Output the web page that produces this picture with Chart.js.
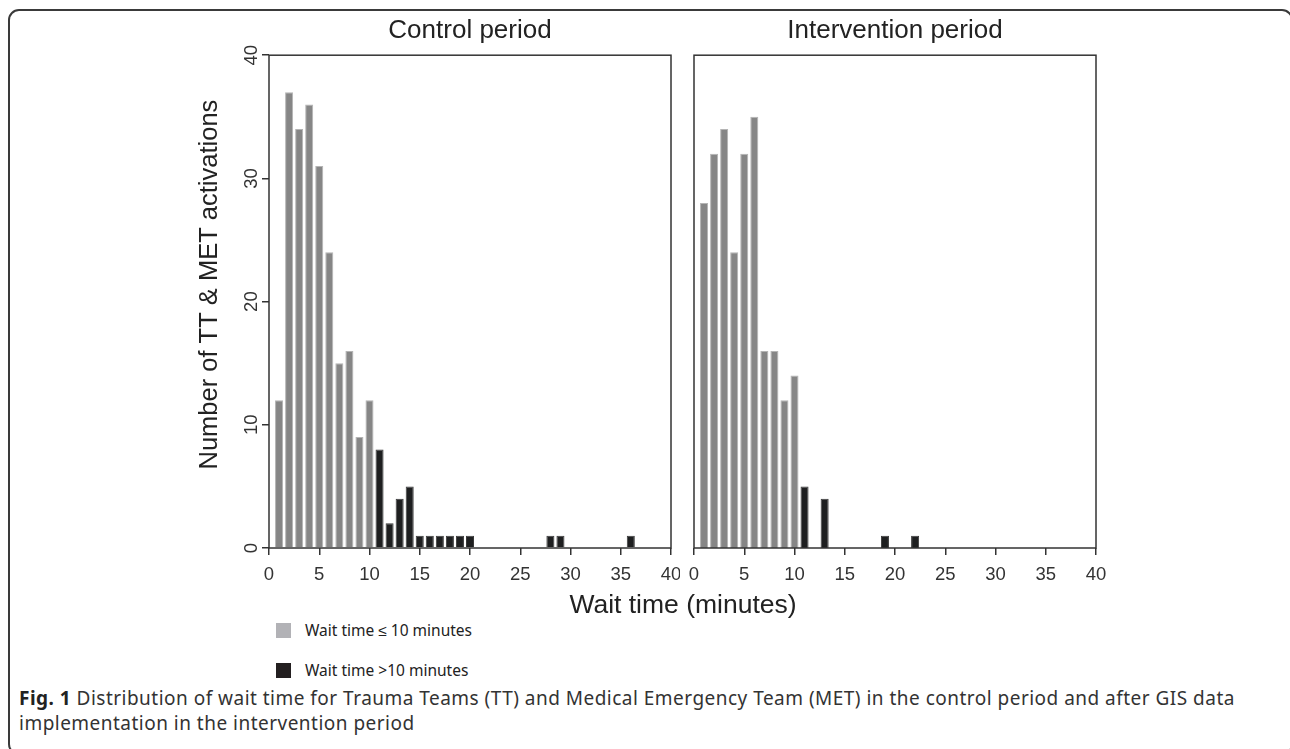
<!DOCTYPE html>
<html>
<head>
<meta charset="utf-8">
<script src="https://cdn.jsdelivr.net/npm/chart.js@4.4.0/dist/chart.umd.min.js"></script>
<style>
  body { margin: 0; width: 1290px; height: 749px; overflow: hidden; background: #fff; position: relative;
         font-family: "Liberation Sans", Arial, sans-serif; }
  #frame { position: absolute; left: 8px; top: 9px; width: 1281px; height: 742px;
           border: 2px solid #3a3a3a; border-radius: 11px; }
  .panel { position: absolute; top: 0; height: 600px; }
  #left { left: 170px; width: 510px; }
  #right { left: 685px; width: 425px; }
  #xtitle { position: absolute; left: 483px; width: 400px; top: 589px; text-align: center;
            font-size: 26.5px; color: #222; }
  .leg { position: absolute; left: 276px; font-family: "Noto Sans", sans-serif; font-size: 15.5px; color: #222; }
  .leg span { display: inline-block; width: 15px; height: 15px; vertical-align: -2px; margin-right: 14px; }
  #caption { position: absolute; left: 19px; top: 686px; width: 1250px; font-family: "Noto Sans", sans-serif;
             font-size: 19px; letter-spacing: 0.48px; line-height: 25px; color: #333; }
  #caption b { color: #222; }
</style>
</head>
<body>
<div id="frame"></div>
<div class="panel" id="left"><canvas id="c1"></canvas></div>
<div class="panel" id="right"><canvas id="c2"></canvas></div>
<div id="xtitle">Wait time (minutes)</div>
<div class="leg" style="top:619px"><span style="background:#b2b2b6"></span>Wait time ≤ 10 minutes</div>
<div class="leg" style="top:659px"><span style="background:#231f20"></span>Wait time &gt;10 minutes</div>
<div id="caption"><b>Fig. 1</b> Distribution of wait time for Trauma Teams (TT) and Medical Emergency Team (MET) in the control period and after GIS data implementation in the intervention period</div>
<script>
// wait time (minutes) and number of activations
const controlShortX = [1, 2, 3, 4, 5, 6, 7, 8, 9, 10];
const controlShort  = [12, 37, 34, 36, 31, 24, 15, 16, 9, 12];
const controlLongX  = [11, 12, 13, 14, 15, 16, 17, 18, 19, 20, 28, 29, 36];
const controlLong   = [8, 2, 4, 5, 1, 1, 1, 1, 1, 1, 1, 1, 1];

const interShortX = [1, 2, 3, 4, 5, 6, 7, 8, 9, 10];
const interShort  = [28, 32, 34, 24, 32, 35, 16, 16, 12, 14];
const interLongX  = [11, 13, 19, 22];
const interLong   = [5, 4, 1, 1];

const xTickValues = [0, 5, 10, 15, 20, 25, 30, 35, 40];
const yTickValues = [0, 10, 20, 30, 40];
const yTitle = 'Number of TT & MET activations';

const pts = (xs, ys) => xs.map((x, i) => ({ x: x, y: ys[i] }));

// box round the plot area
const panelBox = {
  id: 'panelBox',
  afterDraw(chart) {
    const { ctx, chartArea: a } = chart;
    ctx.save();
    ctx.strokeStyle = '#333';
    ctx.lineWidth = 1.5;
    ctx.strokeRect(a.left, a.top, a.right - a.left, a.bottom - a.top);
    ctx.restore();
  }
};

// y title, sits a bit above the middle of the axis in the original
const yAxisTitle = {
  id: 'yAxisTitle',
  afterDraw(chart, args, opts) {
    if (!opts.text) return;
    const s = chart.scales.y, ctx = chart.ctx;
    ctx.save();
    ctx.translate(s.left + 40, (s.top + s.bottom) / 2 - 17);
    ctx.rotate(-Math.PI / 2);
    ctx.font = '25.5px "Liberation Sans"';
    ctx.fillStyle = '#222';
    ctx.textAlign = 'center';
    ctx.textBaseline = 'middle';
    ctx.fillText(opts.text, 0, 0);
    ctx.restore();
  }
};

function makeChart(id, title, shortX, shortY, longX, longY, withY) {
  return new Chart(document.getElementById(id), {
    type: 'bar',
    data: {
      datasets: [
        { label: 'Wait time ≤ 10 minutes', data: pts(shortX, shortY),
          backgroundColor: '#868686', borderColor: '#b4b4b4', borderWidth: 1 },
        { label: 'Wait time >10 minutes', data: pts(longX, longY),
          backgroundColor: '#1e1f20', borderColor: '#3a3a3a', borderWidth: 1 }
      ]
    },
    options: {
      responsive: true,
      maintainAspectRatio: false,
      animation: false,
      layout: { padding: { left: withY ? 0 : 9, right: withY ? 9 : 14 } },
      datasets: { bar: { grouped: false, categoryPercentage: 1, barPercentage: 0.8 } },
      plugins: {
        legend: { display: false },
        tooltip: { enabled: false },
        yAxisTitle: { text: withY ? yTitle : '' },
        title: {
          display: true, text: title, fullSize: false, color: '#222',
          font: { family: 'Liberation Sans', size: 26, weight: 'normal' },
          padding: { top: 15, bottom: 9 }
        }
      },
      scales: {
        x: {
          type: 'linear', min: 0, max: 40, offset: false,
          afterBuildTicks: s => { s.ticks = xTickValues.map(v => ({ value: v })); },
          afterFit: s => { s.height = 52; s.paddingLeft = 0; s.paddingRight = 0; },
          border: { display: false },
          grid: { display: true, drawOnChartArea: false, drawTicks: true, tickLength: 7,
                  color: '#333', lineWidth: 1.5, offset: false },
          ticks: { color: '#333', font: { family: 'Liberation Sans', size: 18.5 }, padding: 9, maxRotation: 0 }
        },
        y: {
          display: withY, min: 0, max: 40,
          afterBuildTicks: s => { s.ticks = yTickValues.map(v => ({ value: v })); },
          afterFit: s => { if (withY) { s.width = 99; s.paddingTop = 0; s.paddingBottom = 0; } },
          border: { display: false },
          grid: { display: true, drawOnChartArea: false, drawTicks: true, tickLength: 7,
                  color: '#333', lineWidth: 1.5 },
          ticks: { color: '#333', font: { family: 'Liberation Sans', size: 18.5 }, padding: 0,
                   minRotation: 90, maxRotation: 90, crossAlign: 'center' }
        }
      }
    },
    plugins: [panelBox, yAxisTitle]
  });
}

makeChart('c1', 'Control period', controlShortX, controlShort, controlLongX, controlLong, true);
makeChart('c2', 'Intervention period', interShortX, interShort, interLongX, interLong, false);
</script>
</body>
</html>
